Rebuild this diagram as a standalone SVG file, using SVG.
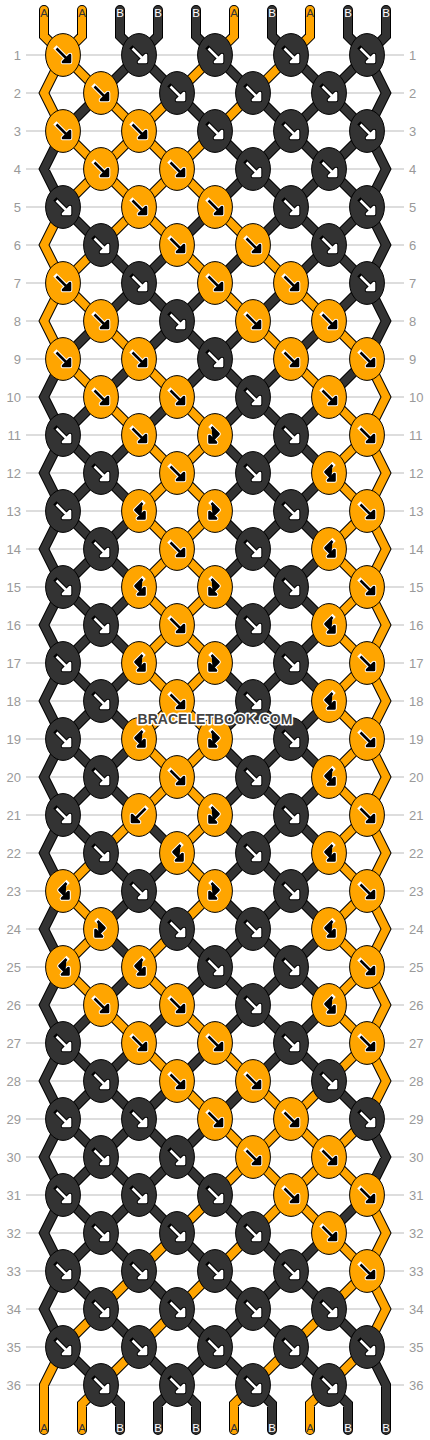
<svg xmlns="http://www.w3.org/2000/svg" xmlns:xlink="http://www.w3.org/1999/xlink" width="430" height="1440" viewBox="0 0 430 1440">
<style>
.bg{fill:#fff}
.grid{fill:none;stroke:#bbb;stroke-width:1}
.num{font-family:"Liberation Sans",Arial,sans-serif;font-size:13px;fill:#999}
.l{text-anchor:end}
.ol{fill:none;stroke:#000;stroke-width:10;stroke-linecap:round;stroke-linejoin:miter}
.co{fill:none;stroke:#ffa500;stroke-width:8;stroke-linecap:round;stroke-linejoin:miter}
.cd{fill:none;stroke:#333;stroke-width:8;stroke-linecap:round;stroke-linejoin:miter}
.ko{fill:#ffa500;stroke:#000;stroke-width:1}
.kd{fill:#333;stroke:#000;stroke-width:1}
.aw{fill:#fff;stroke:#fff;stroke-width:4.6;stroke-linejoin:round;stroke-linecap:square}
.ab{fill:#000;stroke:#000;stroke-width:4.6;stroke-linejoin:round;stroke-linecap:square}
.mb{fill:#000;stroke:#000;stroke-width:2.6;stroke-linejoin:round;stroke-linecap:butt}
.mw{fill:#fff;stroke:#fff;stroke-width:2.6;stroke-linejoin:round;stroke-linecap:butt}
.lab{font-family:"Liberation Sans",Arial,sans-serif;font-size:11.5px;text-anchor:middle}
.la{fill:#333}
.lb{fill:#fff}
.wm{font-family:"Liberation Sans",Arial,sans-serif;font-size:14px;font-weight:bold;text-anchor:middle;fill:#444;stroke:#fff;stroke-width:3;paint-order:stroke;stroke-linejoin:round}
</style>
<defs>
<path id="gf" d="M-6.5-6.5L4 4M7 7V0L0 7Z"/>
<path id="gb" d="M6.5-6.5L-4 4M-7 7V0L0 7Z"/>
<path id="gfb" d="M-3.5-8L3.5-1L-2.5 5M-5.5 7.5V1L1 7.5Z"/>
<path id="gbf" d="M3.5-8L-3.5-1L2.5 5M5.5 7.5V1L-1 7.5Z"/>
<g id="OF"><ellipse class="ko" rx="17.4" ry="21.4"/><use href="#gf" class="aw"/><use href="#gf" class="mb"/></g>
<g id="DF"><ellipse class="kd" rx="17.4" ry="21.4"/><use href="#gf" class="ab"/><use href="#gf" class="mw"/></g>
<g id="OB"><ellipse class="ko" rx="17.4" ry="21.4"/><use href="#gb" class="aw"/><use href="#gb" class="mb"/></g>
<g id="OFB"><ellipse class="ko" rx="17.4" ry="21.4"/><use href="#gfb" class="aw"/><use href="#gfb" class="mb"/></g>
<g id="OBF"><ellipse class="ko" rx="17.4" ry="21.4"/><use href="#gbf" class="aw"/><use href="#gbf" class="mb"/></g>
<path id="so" d="M44 10V36L63 55L44 93L63 131M63 207L44 245L63 283L44 321L63 359M63 1347L44 1385V1430M82 10V36L63 55M234 10V36L215 55M310 10V36L291 55M367 359L386 397L367 435L386 473L367 511L386 549L367 587L386 625L367 663L386 701L367 739L386 777L367 815L386 853L367 891L386 929L367 967L386 1005L367 1043L386 1081L367 1119M367 1195L386 1233L367 1271L386 1309L367 1347M101 1385L82 1404V1430M253 1385L234 1404V1430M329 1385L310 1404V1430
M63 55l38 38M215 55l-38 38M291 55l-38 38
M101 93l38 38M177 93l-38 38M253 93l-38 38
M63 131l38 38M139 131l-38 38M139 131l38 38M215 131l-38 38
M101 169l-38 38M101 169l38 38M177 169l-38 38M177 169l38 38
M139 207l-38 38M139 207l38 38M215 207l38 38
M101 245l-38 38M177 245l38 38M253 245l38 38
M63 283l38 38M215 283l38 38M291 283l38 38
M101 321l38 38M253 321l38 38M329 321l38 38
M63 359l38 38M139 359l38 38M291 359l38 38
M101 397l38 38M177 397l38 38M329 397l38 38
M139 435l38 38M215 435l-38 38M367 435l-38 38
M177 473l-38 38M177 473l38 38M329 473l38 38
M139 511l38 38M215 511l-38 38M367 511l-38 38
M177 549l-38 38M177 549l38 38M329 549l38 38
M139 587l38 38M215 587l-38 38M367 587l-38 38
M177 625l-38 38M177 625l38 38M329 625l38 38
M139 663l38 38M215 663l-38 38M367 663l-38 38
M177 701l-38 38M177 701l38 38M329 701l38 38
M139 739l38 38M215 739l-38 38M367 739l-38 38
M177 777l-38 38M177 777l38 38M329 777l38 38
M139 815l-38 38M215 815l-38 38M367 815l-38 38
M101 853l-38 38M177 853l38 38M329 853l38 38
M63 891l38 38M215 891l-38 38M367 891l-38 38
M101 929l-38 38M177 929l-38 38M329 929l38 38
M63 967l38 38M139 967l38 38M367 967l-38 38
M101 1005l38 38M177 1005l38 38M329 1005l38 38
M139 1043l38 38M215 1043l38 38M367 1043l-38 38
M177 1081l38 38M253 1081l38 38M329 1081l-38 38
M215 1119l38 38M291 1119l-38 38M291 1119l38 38M367 1119l-38 38
M253 1157l-38 38M253 1157l38 38M329 1157l-38 38M329 1157l38 38
M215 1195l-38 38M291 1195l-38 38M291 1195l38 38
M177 1233l-38 38M253 1233l-38 38M329 1233l38 38
M139 1271l-38 38M215 1271l-38 38M367 1271l-38 38
M101 1309l-38 38M177 1309l-38 38M329 1309l-38 38
M139 1347l-38 38M291 1347l-38 38M367 1347l-38 38"/>
<path id="sd" d="M386 10V36L367 55L386 93L367 131L386 169L367 207L386 245L367 283L386 321L367 359M367 1119L386 1157L367 1195M367 1347L386 1385V1430M63 131L44 169L63 207M63 359L44 397L63 435L44 473L63 511L44 549L63 587L44 625L63 663L44 701L63 739L44 777L63 815L44 853L63 891L44 929L63 967L44 1005L63 1043L44 1081L63 1119L44 1157L63 1195L44 1233L63 1271L44 1309L63 1347M120 10V36L139 55M158 10V36L139 55M196 10V36L215 55M272 10V36L291 55M348 10V36L367 55M101 1385L120 1404V1430M177 1385L158 1404V1430M177 1385L196 1404V1430M253 1385L272 1404V1430M329 1385L348 1404V1430
M139 55l-38 38M139 55l38 38M215 55l38 38M291 55l38 38M367 55l-38 38
M101 93l-38 38M177 93l38 38M253 93l38 38M329 93l-38 38M329 93l38 38
M215 131l38 38M291 131l-38 38M291 131l38 38M367 131l-38 38
M253 169l-38 38M253 169l38 38M329 169l-38 38M329 169l38 38
M63 207l38 38M215 207l-38 38M291 207l-38 38M291 207l38 38M367 207l-38 38
M101 245l38 38M177 245l-38 38M253 245l-38 38M329 245l-38 38M329 245l38 38
M139 283l-38 38M139 283l38 38M215 283l-38 38M291 283l-38 38M367 283l-38 38
M101 321l-38 38M177 321l-38 38M177 321l38 38M253 321l-38 38M329 321l-38 38
M139 359l-38 38M215 359l-38 38M215 359l38 38M291 359l-38 38M367 359l-38 38
M101 397l-38 38M177 397l-38 38M253 397l-38 38M253 397l38 38M329 397l-38 38
M63 435l38 38M139 435l-38 38M215 435l38 38M291 435l-38 38M291 435l38 38
M101 473l-38 38M101 473l38 38M253 473l-38 38M253 473l38 38M329 473l-38 38
M63 511l38 38M139 511l-38 38M215 511l38 38M291 511l-38 38M291 511l38 38
M101 549l-38 38M101 549l38 38M253 549l-38 38M253 549l38 38M329 549l-38 38
M63 587l38 38M139 587l-38 38M215 587l38 38M291 587l-38 38M291 587l38 38
M101 625l-38 38M101 625l38 38M253 625l-38 38M253 625l38 38M329 625l-38 38
M63 663l38 38M139 663l-38 38M215 663l38 38M291 663l-38 38M291 663l38 38
M101 701l-38 38M101 701l38 38M253 701l-38 38M253 701l38 38M329 701l-38 38
M63 739l38 38M139 739l-38 38M215 739l38 38M291 739l-38 38M291 739l38 38
M101 777l-38 38M101 777l38 38M253 777l-38 38M253 777l38 38M329 777l-38 38
M63 815l38 38M139 815l38 38M215 815l38 38M291 815l-38 38M291 815l38 38
M101 853l38 38M177 853l-38 38M253 853l-38 38M253 853l38 38M329 853l-38 38
M139 891l-38 38M139 891l38 38M215 891l38 38M291 891l-38 38M291 891l38 38
M101 929l38 38M177 929l38 38M253 929l-38 38M253 929l38 38M329 929l-38 38
M139 967l-38 38M215 967l-38 38M215 967l38 38M291 967l-38 38M291 967l38 38
M101 1005l-38 38M177 1005l-38 38M253 1005l-38 38M253 1005l38 38M329 1005l-38 38
M63 1043l38 38M139 1043l-38 38M215 1043l-38 38M291 1043l-38 38M291 1043l38 38
M101 1081l-38 38M101 1081l38 38M177 1081l-38 38M253 1081l-38 38M329 1081l38 38
M63 1119l38 38M139 1119l-38 38M139 1119l38 38M215 1119l-38 38
M101 1157l-38 38M101 1157l38 38M177 1157l-38 38M177 1157l38 38
M63 1195l38 38M139 1195l-38 38M139 1195l38 38M215 1195l38 38M367 1195l-38 38
M101 1233l-38 38M101 1233l38 38M177 1233l38 38M253 1233l38 38M329 1233l-38 38
M63 1271l38 38M139 1271l38 38M215 1271l38 38M291 1271l-38 38M291 1271l38 38
M101 1309l38 38M177 1309l38 38M253 1309l-38 38M253 1309l38 38M329 1309l38 38
M63 1347l38 38M139 1347l38 38M215 1347l-38 38M215 1347l38 38M291 1347l38 38"/>
</defs>
<rect class="bg" x="0" y="0" width="430" height="1440"/>
<g id="rows">
<path class="grid" d="M26 55H404M26 93H404M26 131H404M26 169H404M26 207H404M26 245H404M26 283H404M26 321H404M26 359H404M26 397H404M26 435H404M26 473H404M26 511H404M26 549H404M26 587H404M26 625H404M26 663H404M26 701H404M26 739H404M26 777H404M26 815H404M26 853H404M26 891H404M26 929H404M26 967H404M26 1005H404M26 1043H404M26 1081H404M26 1119H404M26 1157H404M26 1195H404M26 1233H404M26 1271H404M26 1309H404M26 1347H404M26 1385H404"/>
<g class="num l">
<text x="21" y="59.5">1</text><text x="21" y="97.5">2</text><text x="21" y="135.5">3</text><text x="21" y="173.5">4</text><text x="21" y="211.5">5</text><text x="21" y="249.5">6</text><text x="21" y="287.5">7</text><text x="21" y="325.5">8</text><text x="21" y="363.5">9</text><text x="21" y="401.5">10</text><text x="21" y="439.5">11</text><text x="21" y="477.5">12</text><text x="21" y="515.5">13</text><text x="21" y="553.5">14</text><text x="21" y="591.5">15</text><text x="21" y="629.5">16</text><text x="21" y="667.5">17</text><text x="21" y="705.5">18</text><text x="21" y="743.5">19</text><text x="21" y="781.5">20</text><text x="21" y="819.5">21</text><text x="21" y="857.5">22</text><text x="21" y="895.5">23</text><text x="21" y="933.5">24</text><text x="21" y="971.5">25</text><text x="21" y="1009.5">26</text><text x="21" y="1047.5">27</text><text x="21" y="1085.5">28</text><text x="21" y="1123.5">29</text><text x="21" y="1161.5">30</text><text x="21" y="1199.5">31</text><text x="21" y="1237.5">32</text><text x="21" y="1275.5">33</text><text x="21" y="1313.5">34</text><text x="21" y="1351.5">35</text><text x="21" y="1389.5">36</text>
</g>
<g class="num">
<text x="409" y="59.5">1</text><text x="409" y="97.5">2</text><text x="409" y="135.5">3</text><text x="409" y="173.5">4</text><text x="409" y="211.5">5</text><text x="409" y="249.5">6</text><text x="409" y="287.5">7</text><text x="409" y="325.5">8</text><text x="409" y="363.5">9</text><text x="409" y="401.5">10</text><text x="409" y="439.5">11</text><text x="409" y="477.5">12</text><text x="409" y="515.5">13</text><text x="409" y="553.5">14</text><text x="409" y="591.5">15</text><text x="409" y="629.5">16</text><text x="409" y="667.5">17</text><text x="409" y="705.5">18</text><text x="409" y="743.5">19</text><text x="409" y="781.5">20</text><text x="409" y="819.5">21</text><text x="409" y="857.5">22</text><text x="409" y="895.5">23</text><text x="409" y="933.5">24</text><text x="409" y="971.5">25</text><text x="409" y="1009.5">26</text><text x="409" y="1047.5">27</text><text x="409" y="1085.5">28</text><text x="409" y="1123.5">29</text><text x="409" y="1161.5">30</text><text x="409" y="1199.5">31</text><text x="409" y="1237.5">32</text><text x="409" y="1275.5">33</text><text x="409" y="1313.5">34</text><text x="409" y="1351.5">35</text><text x="409" y="1389.5">36</text>
</g>
</g>
<g id="connectors">
<use href="#so" class="ol"/><use href="#sd" class="ol"/>
<use href="#so" class="co"/><use href="#sd" class="cd"/>
</g>
<g id="labels" class="lab">
<text class="la" x="44" y="16.7">A</text><text class="la" x="82" y="16.7">A</text><text class="lb" x="120" y="16.7">B</text><text class="lb" x="158" y="16.7">B</text><text class="lb" x="196" y="16.7">B</text><text class="la" x="234" y="16.7">A</text><text class="lb" x="272" y="16.7">B</text><text class="la" x="310" y="16.7">A</text><text class="lb" x="348" y="16.7">B</text><text class="lb" x="386" y="16.7">B</text>
<text class="la" x="44" y="1431.7">A</text><text class="la" x="82" y="1431.7">A</text><text class="lb" x="120" y="1431.7">B</text><text class="lb" x="158" y="1431.7">B</text><text class="lb" x="196" y="1431.7">B</text><text class="la" x="234" y="1431.7">A</text><text class="lb" x="272" y="1431.7">B</text><text class="la" x="310" y="1431.7">A</text><text class="lb" x="348" y="1431.7">B</text><text class="lb" x="386" y="1431.7">B</text>
</g>
<g id="knots">
<g id="k1-1"><use href="#OF" x="63" y="55"/></g><g id="k1-2"><use href="#DF" x="139" y="55"/></g><g id="k1-3"><use href="#DF" x="215" y="55"/></g><g id="k1-4"><use href="#DF" x="291" y="55"/></g><g id="k1-5"><use href="#DF" x="367" y="55"/></g>
<g id="k2-1"><use href="#OF" x="101" y="93"/></g><g id="k2-2"><use href="#DF" x="177" y="93"/></g><g id="k2-3"><use href="#DF" x="253" y="93"/></g><g id="k2-4"><use href="#DF" x="329" y="93"/></g>
<g id="k3-1"><use href="#OF" x="63" y="131"/></g><g id="k3-2"><use href="#OF" x="139" y="131"/></g><g id="k3-3"><use href="#DF" x="215" y="131"/></g><g id="k3-4"><use href="#DF" x="291" y="131"/></g><g id="k3-5"><use href="#DF" x="367" y="131"/></g>
<g id="k4-1"><use href="#OF" x="101" y="169"/></g><g id="k4-2"><use href="#OF" x="177" y="169"/></g><g id="k4-3"><use href="#DF" x="253" y="169"/></g><g id="k4-4"><use href="#DF" x="329" y="169"/></g>
<g id="k5-1"><use href="#DF" x="63" y="207"/></g><g id="k5-2"><use href="#OF" x="139" y="207"/></g><g id="k5-3"><use href="#OF" x="215" y="207"/></g><g id="k5-4"><use href="#DF" x="291" y="207"/></g><g id="k5-5"><use href="#DF" x="367" y="207"/></g>
<g id="k6-1"><use href="#DF" x="101" y="245"/></g><g id="k6-2"><use href="#OF" x="177" y="245"/></g><g id="k6-3"><use href="#OF" x="253" y="245"/></g><g id="k6-4"><use href="#DF" x="329" y="245"/></g>
<g id="k7-1"><use href="#OF" x="63" y="283"/></g><g id="k7-2"><use href="#DF" x="139" y="283"/></g><g id="k7-3"><use href="#OF" x="215" y="283"/></g><g id="k7-4"><use href="#OF" x="291" y="283"/></g><g id="k7-5"><use href="#DF" x="367" y="283"/></g>
<g id="k8-1"><use href="#OF" x="101" y="321"/></g><g id="k8-2"><use href="#DF" x="177" y="321"/></g><g id="k8-3"><use href="#OF" x="253" y="321"/></g><g id="k8-4"><use href="#OF" x="329" y="321"/></g>
<g id="k9-1"><use href="#OF" x="63" y="359"/></g><g id="k9-2"><use href="#OF" x="139" y="359"/></g><g id="k9-3"><use href="#DF" x="215" y="359"/></g><g id="k9-4"><use href="#OF" x="291" y="359"/></g><g id="k9-5"><use href="#OF" x="367" y="359"/></g>
<g id="k10-1"><use href="#OF" x="101" y="397"/></g><g id="k10-2"><use href="#OF" x="177" y="397"/></g><g id="k10-3"><use href="#DF" x="253" y="397"/></g><g id="k10-4"><use href="#OF" x="329" y="397"/></g>
<g id="k11-1"><use href="#DF" x="63" y="435"/></g><g id="k11-2"><use href="#OF" x="139" y="435"/></g><g id="k11-3"><use href="#OFB" x="215" y="435"/></g><g id="k11-4"><use href="#DF" x="291" y="435"/></g><g id="k11-5"><use href="#OF" x="367" y="435"/></g>
<g id="k12-1"><use href="#DF" x="101" y="473"/></g><g id="k12-2"><use href="#OF" x="177" y="473"/></g><g id="k12-3"><use href="#DF" x="253" y="473"/></g><g id="k12-4"><use href="#OBF" x="329" y="473"/></g>
<g id="k13-1"><use href="#DF" x="63" y="511"/></g><g id="k13-2"><use href="#OBF" x="139" y="511"/></g><g id="k13-3"><use href="#OFB" x="215" y="511"/></g><g id="k13-4"><use href="#DF" x="291" y="511"/></g><g id="k13-5"><use href="#OF" x="367" y="511"/></g>
<g id="k14-1"><use href="#DF" x="101" y="549"/></g><g id="k14-2"><use href="#OF" x="177" y="549"/></g><g id="k14-3"><use href="#DF" x="253" y="549"/></g><g id="k14-4"><use href="#OBF" x="329" y="549"/></g>
<g id="k15-1"><use href="#DF" x="63" y="587"/></g><g id="k15-2"><use href="#OBF" x="139" y="587"/></g><g id="k15-3"><use href="#OFB" x="215" y="587"/></g><g id="k15-4"><use href="#DF" x="291" y="587"/></g><g id="k15-5"><use href="#OF" x="367" y="587"/></g>
<g id="k16-1"><use href="#DF" x="101" y="625"/></g><g id="k16-2"><use href="#OF" x="177" y="625"/></g><g id="k16-3"><use href="#DF" x="253" y="625"/></g><g id="k16-4"><use href="#OBF" x="329" y="625"/></g>
<g id="k17-1"><use href="#DF" x="63" y="663"/></g><g id="k17-2"><use href="#OBF" x="139" y="663"/></g><g id="k17-3"><use href="#OFB" x="215" y="663"/></g><g id="k17-4"><use href="#DF" x="291" y="663"/></g><g id="k17-5"><use href="#OF" x="367" y="663"/></g>
<g id="k18-1"><use href="#DF" x="101" y="701"/></g><g id="k18-2"><use href="#OF" x="177" y="701"/></g><g id="k18-3"><use href="#DF" x="253" y="701"/></g><g id="k18-4"><use href="#OBF" x="329" y="701"/></g>
<g id="k19-1"><use href="#DF" x="63" y="739"/></g><g id="k19-2"><use href="#OBF" x="139" y="739"/></g><g id="k19-3"><use href="#OFB" x="215" y="739"/></g><g id="k19-4"><use href="#DF" x="291" y="739"/></g><g id="k19-5"><use href="#OF" x="367" y="739"/></g>
<g id="k20-1"><use href="#DF" x="101" y="777"/></g><g id="k20-2"><use href="#OF" x="177" y="777"/></g><g id="k20-3"><use href="#DF" x="253" y="777"/></g><g id="k20-4"><use href="#OBF" x="329" y="777"/></g>
<g id="k21-1"><use href="#DF" x="63" y="815"/></g><g id="k21-2"><use href="#OB" x="139" y="815"/></g><g id="k21-3"><use href="#OFB" x="215" y="815"/></g><g id="k21-4"><use href="#DF" x="291" y="815"/></g><g id="k21-5"><use href="#OF" x="367" y="815"/></g>
<g id="k22-1"><use href="#DF" x="101" y="853"/></g><g id="k22-2"><use href="#OBF" x="177" y="853"/></g><g id="k22-3"><use href="#DF" x="253" y="853"/></g><g id="k22-4"><use href="#OBF" x="329" y="853"/></g>
<g id="k23-1"><use href="#OBF" x="63" y="891"/></g><g id="k23-2"><use href="#DF" x="139" y="891"/></g><g id="k23-3"><use href="#OFB" x="215" y="891"/></g><g id="k23-4"><use href="#DF" x="291" y="891"/></g><g id="k23-5"><use href="#OF" x="367" y="891"/></g>
<g id="k24-1"><use href="#OFB" x="101" y="929"/></g><g id="k24-2"><use href="#DF" x="177" y="929"/></g><g id="k24-3"><use href="#DF" x="253" y="929"/></g><g id="k24-4"><use href="#OBF" x="329" y="929"/></g>
<g id="k25-1"><use href="#OBF" x="63" y="967"/></g><g id="k25-2"><use href="#OBF" x="139" y="967"/></g><g id="k25-3"><use href="#DF" x="215" y="967"/></g><g id="k25-4"><use href="#DF" x="291" y="967"/></g><g id="k25-5"><use href="#OF" x="367" y="967"/></g>
<g id="k26-1"><use href="#OF" x="101" y="1005"/></g><g id="k26-2"><use href="#OF" x="177" y="1005"/></g><g id="k26-3"><use href="#DF" x="253" y="1005"/></g><g id="k26-4"><use href="#OBF" x="329" y="1005"/></g>
<g id="k27-1"><use href="#DF" x="63" y="1043"/></g><g id="k27-2"><use href="#OF" x="139" y="1043"/></g><g id="k27-3"><use href="#OF" x="215" y="1043"/></g><g id="k27-4"><use href="#DF" x="291" y="1043"/></g><g id="k27-5"><use href="#OF" x="367" y="1043"/></g>
<g id="k28-1"><use href="#DF" x="101" y="1081"/></g><g id="k28-2"><use href="#OF" x="177" y="1081"/></g><g id="k28-3"><use href="#OF" x="253" y="1081"/></g><g id="k28-4"><use href="#DF" x="329" y="1081"/></g>
<g id="k29-1"><use href="#DF" x="63" y="1119"/></g><g id="k29-2"><use href="#DF" x="139" y="1119"/></g><g id="k29-3"><use href="#OF" x="215" y="1119"/></g><g id="k29-4"><use href="#OF" x="291" y="1119"/></g><g id="k29-5"><use href="#DF" x="367" y="1119"/></g>
<g id="k30-1"><use href="#DF" x="101" y="1157"/></g><g id="k30-2"><use href="#DF" x="177" y="1157"/></g><g id="k30-3"><use href="#OF" x="253" y="1157"/></g><g id="k30-4"><use href="#OF" x="329" y="1157"/></g>
<g id="k31-1"><use href="#DF" x="63" y="1195"/></g><g id="k31-2"><use href="#DF" x="139" y="1195"/></g><g id="k31-3"><use href="#DF" x="215" y="1195"/></g><g id="k31-4"><use href="#OF" x="291" y="1195"/></g><g id="k31-5"><use href="#OF" x="367" y="1195"/></g>
<g id="k32-1"><use href="#DF" x="101" y="1233"/></g><g id="k32-2"><use href="#DF" x="177" y="1233"/></g><g id="k32-3"><use href="#DF" x="253" y="1233"/></g><g id="k32-4"><use href="#OF" x="329" y="1233"/></g>
<g id="k33-1"><use href="#DF" x="63" y="1271"/></g><g id="k33-2"><use href="#DF" x="139" y="1271"/></g><g id="k33-3"><use href="#DF" x="215" y="1271"/></g><g id="k33-4"><use href="#DF" x="291" y="1271"/></g><g id="k33-5"><use href="#OF" x="367" y="1271"/></g>
<g id="k34-1"><use href="#DF" x="101" y="1309"/></g><g id="k34-2"><use href="#DF" x="177" y="1309"/></g><g id="k34-3"><use href="#DF" x="253" y="1309"/></g><g id="k34-4"><use href="#DF" x="329" y="1309"/></g>
<g id="k35-1"><use href="#DF" x="63" y="1347"/></g><g id="k35-2"><use href="#DF" x="139" y="1347"/></g><g id="k35-3"><use href="#DF" x="215" y="1347"/></g><g id="k35-4"><use href="#DF" x="291" y="1347"/></g><g id="k35-5"><use href="#DF" x="367" y="1347"/></g>
<g id="k36-1"><use href="#DF" x="101" y="1385"/></g><g id="k36-2"><use href="#DF" x="177" y="1385"/></g><g id="k36-3"><use href="#DF" x="253" y="1385"/></g><g id="k36-4"><use href="#DF" x="329" y="1385"/></g>
</g>
<text class="wm" x="215" y="724">BRACELETBOOK.COM</text>
</svg>
